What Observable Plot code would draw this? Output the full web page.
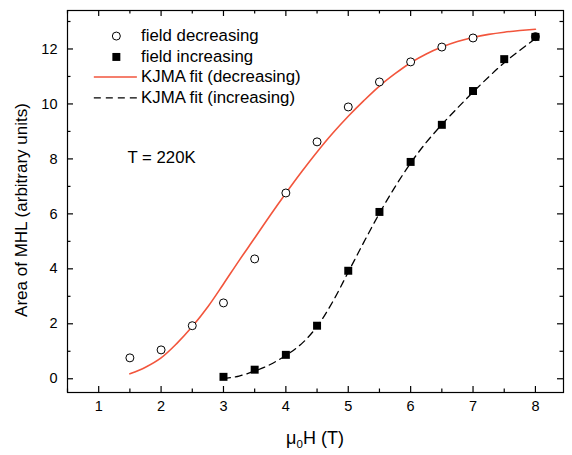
<!DOCTYPE html>
<html>
<head>
<meta charset="utf-8">
<script src="https://cdn.jsdelivr.net/npm/d3@7"></script>
<script src="https://cdn.jsdelivr.net/npm/@observablehq/plot@0.6"></script>
<style>
  html, body { margin: 0; padding: 0; background: #fff; }
  #chart svg { display: block; }
</style>
</head>
<body>
<div id="chart"></div>
<script>
// Measured data (field decreasing: open circles; field increasing: filled squares)
const fieldDec = [1.5, 2, 2.5, 3, 3.5, 4, 4.5, 5, 5.5, 6, 6.5, 7, 8];
const areaDec  = [0.76, 1.05, 1.93, 2.76, 4.36, 6.76, 8.62, 9.89, 10.8, 11.53, 12.07, 12.4, 12.45];
const fieldInc = [3, 3.5, 4, 4.5, 5, 5.5, 6, 6.5, 7, 7.5, 8];
const areaInc  = [0.07, 0.33, 0.87, 1.93, 3.93, 6.07, 7.89, 9.24, 10.47, 11.63, 12.44];

// KJMA fit curves
const fitDecH = [1.5, 1.75, 2, 2.25, 2.5, 2.75, 3, 3.25, 3.5, 3.75, 4, 4.25, 4.5, 4.75, 5, 5.25, 5.5, 5.75, 6, 6.25, 6.5, 6.75, 7, 7.25, 7.5, 7.75, 8];
const fitDecA = [0.18, 0.42, 0.76, 1.28, 1.9, 2.62, 3.45, 4.3, 5.12, 5.95, 6.75, 7.52, 8.25, 8.93, 9.55, 10.12, 10.65, 11.1, 11.5, 11.82, 12.07, 12.27, 12.42, 12.53, 12.61, 12.67, 12.72];
const fitIncH = [3, 3.25, 3.5, 3.75, 4, 4.25, 4.5, 4.75, 5, 5.25, 5.5, 5.75, 6, 6.25, 6.5, 6.75, 7, 7.25, 7.5, 7.75, 8];
const fitIncA = [0.0, 0.1, 0.28, 0.52, 0.85, 1.27, 1.9, 2.8, 3.88, 4.97, 6.02, 6.98, 7.85, 8.6, 9.25, 9.85, 10.43, 10.98, 11.5, 11.95, 12.38];

// Axis ticks
const xMajor = [1, 2, 3, 4, 5, 6, 7, 8];
const xMinor = [0.5, 1.5, 2.5, 3.5, 4.5, 5.5, 6.5, 7.5];
const yMajor = [0, 2, 4, 6, 8, 10, 12];
const yMinor = [1, 3, 5, 7, 9, 11, 13];

// Texts
const legendLabels = ["field decreasing", "field increasing", "KJMA fit (decreasing)", "KJMA fit (increasing)"];
const annotation = "T = 220K";
const yLabel = "Area of MHL (arbitrary units)";

const dec = fieldDec.map((h, i) => ({h, a: areaDec[i]}));
const inc = fieldInc.map((h, i) => ({h, a: areaInc[i]}));
const fitDec = fitDecH.map((h, i) => ({h, a: fitDecA[i]}));
const fitInc = fitIncH.map((h, i) => ({h, a: fitIncA[i]}));

const RED = "#f2553c";
const FONT = "'Liberation Sans', Arial, Helvetica, sans-serif";

const W = 572, H = 455, ML = 67, MR = 9, MT = 10, MB = 63;
const xDom = [0.5, 8.45], yDom = [-0.5, 13.4];
// pixel lengths of the inward ticks converted to data units
const xu = (xDom[1] - xDom[0]) / (W - ML - MR);
const yu = (yDom[1] - yDom[0]) / (H - MT - MB);
const TICK = "#000";
const tickMarks = (vals, len) => [
  Plot.ruleX(vals, {x: d => d, y1: () => yDom[0], y2: () => yDom[0] + len * yu, stroke: TICK, strokeWidth: 1.2}),
  Plot.ruleX(vals, {x: d => d, y1: () => yDom[1], y2: () => yDom[1] - len * yu, stroke: TICK, strokeWidth: 1.2})
];
const tickMarksY = (vals, len) => [
  Plot.ruleY(vals, {y: d => d, x1: () => xDom[0], x2: () => xDom[0] + len * xu, stroke: TICK, strokeWidth: 1.2}),
  Plot.ruleY(vals, {y: d => d, x1: () => xDom[1], x2: () => xDom[1] - len * xu, stroke: TICK, strokeWidth: 1.2})
];

const chart = Plot.plot({
  width: W, height: H,
  marginLeft: ML, marginRight: MR, marginTop: MT, marginBottom: MB,
  style: {fontFamily: FONT, fontSize: "14px", color: "#000", background: "#fff"},
  x: {domain: xDom},
  y: {domain: yDom},
  marks: [
    Plot.frame({stroke: "#000", strokeWidth: 1.2}),
    ...tickMarks(xMajor, 6), ...tickMarks(xMinor, 3.5),
    ...tickMarksY(yMajor, 6), ...tickMarksY(yMinor, 3.5),
    // tick labels
    Plot.axisX(xMajor, {anchor: "bottom", tickSize: 0, tickPadding: 8, label: null, fontSize: 14.5}),
    Plot.axisY(yMajor, {anchor: "left", tickSize: 0, tickPadding: 10, label: null, fontSize: 14.5}),
    // fits
    Plot.line(fitDec, {x: "h", y: "a", stroke: RED, strokeWidth: 1.6, curve: "catmull-rom"}),
    Plot.line(fitInc, {x: "h", y: "a", stroke: "#000", strokeWidth: 1.3, strokeDasharray: "7,5", curve: "catmull-rom"}),
    // data
    Plot.dot(dec, {x: "h", y: "a", r: 4, stroke: "#000", strokeWidth: 1, fill: "#fff"}),
    Plot.dot(inc, {x: "h", y: "a", r: 4.5, symbol: "square", fill: "#000", stroke: "none"}),
    // legend
    Plot.dot([0], {x: 1.283, y: 12.47, r: 4, stroke: "#000", strokeWidth: 1, fill: "#fff"}),
    Plot.dot([0], {x: 1.283, y: 11.71, r: 4.5, symbol: "square", fill: "#000", stroke: "none"}),
    Plot.ruleY([0], {x1: 0.93, x2: 1.62, y: 10.98, stroke: RED, strokeWidth: 1.6}),
    Plot.ruleY([0], {x1: 0.93, x2: 1.62, y: 10.22, stroke: "#000", strokeWidth: 1.3, strokeDasharray: "7,5"}),
    Plot.text(legendLabels, {x: 1.68, y: [12.47, 11.71, 10.98, 10.22], text: d => d, textAnchor: "start", fontSize: 16.8, fill: "#000"}),
    Plot.text([annotation], {x: 1.46, y: 8.04, text: d => d, textAnchor: "start", fontSize: 16.8, fill: "#000"})
  ]
});

const svg = d3.select(chart);
const x0 = ML, x1 = W - MR, yb = H - MB, yt = MT;

// y-axis label
svg.append("text")
  .attr("transform", `translate(23,${(yb + yt) / 2 + 9}) rotate(-90)`)
  .attr("text-anchor", "middle")
  .attr("dominant-baseline", "middle")
  .attr("font-family", FONT)
  .attr("font-size", 17)
  .attr("fill", "#000")
  .text(yLabel);

// x-axis label with a true subscript
const lab = svg.append("text")
  .attr("x", (x0 + x1) / 2)
  .attr("y", 444)
  .attr("text-anchor", "middle")
  .attr("font-family", FONT)
  .attr("font-size", 18)
  .attr("fill", "#000");
lab.append("tspan").text("μ");
lab.append("tspan").attr("font-size", 11.5).attr("dy", 4).text("0");
lab.append("tspan").attr("dy", -4).text("H (T)");

document.getElementById("chart").appendChild(chart);
</script>
</body>
</html>
